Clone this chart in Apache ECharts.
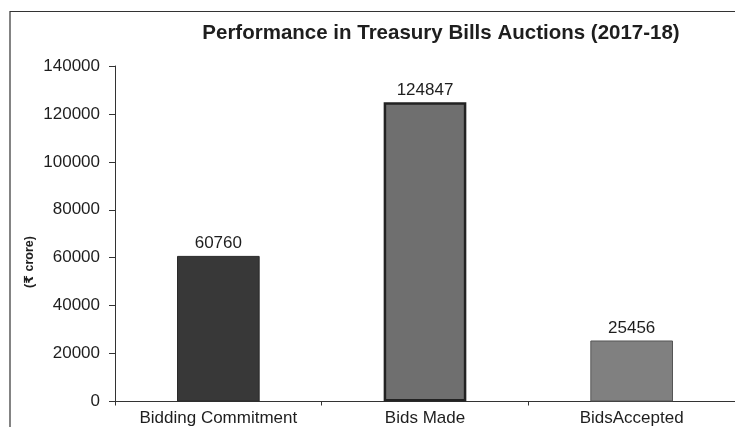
<!DOCTYPE html>
<html>
<head>
<meta charset="utf-8">
<script src="https://cdn.jsdelivr.net/npm/echarts@6/dist/echarts.min.js"></script>
<style>
html,body{margin:0;padding:0;background:#fff;}
#c{width:735px;height:427px;}
</style>
</head>
<body>
<div id="c"></div>
<script>
var categories = ['Bidding Commitment', 'Bids Made', 'BidsAccepted'];
var values = [60760, 124847, 25456];
var barColors = ['#383838', '#6f6f6f', '#808080'];
var barBorders = ['#2a2a2a', '#222222', '#555555'];
var borderWidths = [1, 2.5, 1];
var titleText = 'Performance in Treasury Bills Auctions (2017-18)';
var yName = '(₹ crore)';

var chart = echarts.init(document.getElementById('c'));
var font = '"Liberation Sans", Arial, "DejaVu Sans", sans-serif';
chart.setOption({
  animation: false,
  title: {
    text: titleText,
    left: 436, top: 18, textAlign: 'center',
    textStyle: {fontFamily: font, fontSize: 20.5, fontWeight: 'bold', color: '#1e1e1e'}
  },
  graphic: [
    {type: 'polyline', shape: {points: [[10, 427], [10, 11.5], [735, 11.5]]},
     style: {stroke: '#333', lineWidth: 1.2, fill: null}},
    {type: 'text', x: 30, y: 262, rotation: Math.PI / 2,
     style: {text: yName, fontFamily: font, fontSize: 12.5, fontWeight: 'bold', fill: '#1e1e1e',
             textAlign: 'center', textVerticalAlign: 'middle'}}
  ],
  grid: {left: 115, top: 66, width: 625, bottom: 25.5, containLabel: false},
  xAxis: {
    type: 'category', data: categories,
    axisLine: {lineStyle: {color: '#333', width: 1}},
    axisTick: {show: true, length: 4, lineStyle: {color: '#333'}},
    axisLabel: {fontFamily: font, fontSize: 17, color: '#1e1e1e', margin: 8}
  },
  yAxis: {
    type: 'value', min: 0, max: 140000, interval: 20000,
    splitLine: {show: false},
    axisLine: {show: true, lineStyle: {color: '#333', width: 1}},
    axisTick: {show: true, inside: false, length: 6, lineStyle: {color: '#333'}},
    axisLabel: {fontFamily: font, fontSize: 17, color: '#1e1e1e', margin: 15,
                formatter: function (v) { return String(v); }}
  },
  series: [{
    type: 'bar', barWidth: '40%',
    data: values.map(function (v, i) {
      return {value: v, itemStyle: {color: barColors[i], borderColor: barBorders[i], borderWidth: borderWidths[i]}};
    }),
    label: {show: true, position: 'top', distance: 4, fontFamily: font, fontSize: 17, color: '#1e1e1e'}
  }]
});
</script>
</body>
</html>
